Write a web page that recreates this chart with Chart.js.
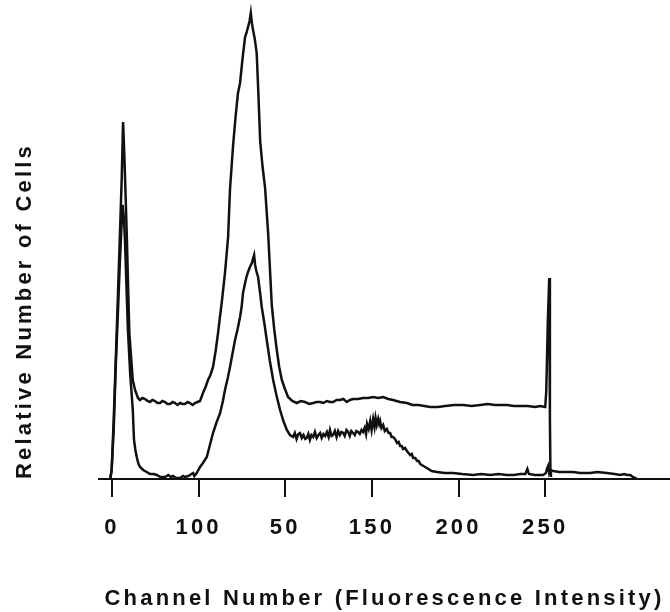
<!DOCTYPE html>
<html>
<head>
<meta charset="utf-8">
<script src="https://cdn.jsdelivr.net/npm/chart.js@4/dist/chart.umd.min.js"></script>
<style>
	body { margin: 0; background: #fff; }
	#wrap { width: 670px; height: 612px; }
</style>
</head>
<body>
<div id="wrap"><canvas id="histo"></canvas></div>
<script>
// channel numbers / relative cell counts
var upperChannels = [-1, -0.2, 1.0, 2.7, 4.6, 5.6, 6.4, 7.2, 8.5, 10.0, 12.0, 13.3, 15.0, 16.2, 17.5, 19.1, 20.5, 21.9, 23.3, 24.8,
	26.2, 27.7, 29.1, 30.6, 32.0, 33.5, 35.0, 36.4, 37.8, 39.3, 40.7, 42.1, 43.6, 45.0, 46.5, 47.9, 49.3, 50.8, 52.5, 54.0,
	55.4, 56.8, 58.3, 59.8, 61.2, 62.3, 63.5, 65.2, 66.2, 67.0, 68.1, 69.9, 71.3, 72.7, 73.9, 75.3, 76.8, 77.6, 78.5, 79.4,
	80.1, 80.8, 81.4, 82.4, 83.5, 84.5, 85.5, 86.9, 88.3, 90.1, 92.2, 93.6, 95.1, 96.5, 98.0, 99.8, 101.6, 104.0, 106.6, 109.0,
	111.4, 113.8, 116.1, 118.1, 120.1, 122.0, 124.0, 125.8, 127.6, 129.6, 131.6, 133.5, 135.5, 137.3, 139.1, 142.0, 144.9, 147.8, 150.7, 153.6,
	156.5, 159.4, 162.2, 166.2, 170.2, 173.4, 176.7, 180.2, 183.6, 188.0, 192.3, 197.5, 202.7, 207.6, 212.5, 216.8, 221.1, 224.5, 227.9, 231.8,
	235.6, 239.9, 244.2, 247.1, 250.0, 250.6, 251.5, 252.3, 252.7, 253.0, 253.3];
var upperCounts = [0, 9, 60, 146, 246, 300, 357, 320, 246, 146, 99, 89, 81, 79, 81, 80, 78, 77, 79, 78,
	76, 76, 78, 77, 75, 75, 77, 76, 74, 76, 75, 75, 77, 76, 74, 76, 77, 78, 86, 92,
	99, 104, 112, 128, 146, 162, 179, 206, 226, 242, 290, 334, 362, 386, 396, 420, 442, 446, 452, 458,
	466, 455, 449, 440, 426, 384, 338, 312, 292, 246, 174, 150, 129, 112, 99, 90, 82, 78, 76, 78,
	77, 75, 76, 77, 77, 76, 78, 77, 77, 79, 79, 80, 77, 79, 80, 80, 81, 81, 82, 81,
	82, 80, 79, 77, 76, 74, 74, 73, 72, 72, 73, 74, 74, 73, 74, 75, 74, 74, 74, 73,
	73, 73, 72, 73, 72, 88, 158, 201, 60, 8, 2];

var lowerChannels = [-1, -0.2, 1.0, 2.3, 3.5, 4.6, 5.4, 6.1, 6.8, 7.5, 8.3, 9.2, 10.5, 12.0, 12.7, 13.5, 14.4, 15.3, 16.2, 18.0,
	20.0, 22.0, 24.0, 25.8, 28.0, 30.6, 32.5, 34.0, 35.2, 37.0, 39.3, 41.0, 42.1, 44.0, 45.0, 46.8, 47.5, 48.9, 49.8, 50.8,
	52.5, 54.7, 56.5, 58.3, 60.2, 62.4, 64.0, 65.2, 66.8, 68.1, 69.6, 71.0, 72.5, 73.9, 74.8, 75.6, 76.8, 77.6, 78.5, 79.6,
	80.7, 81.3, 82.0, 82.6, 83.3, 84.3, 85.4, 86.4, 87.9, 89.3, 91.1, 93.0, 95.0, 97.0, 98.9, 100.9, 102.7, 104.5, 105.5, 106.5,
	107.5, 108.5, 109.5, 110.5, 111.5, 112.4, 113.3, 114.2, 115.1, 116.1, 117.1, 118.1, 119.1, 120.1, 121.0, 122.0, 123.0, 124.0, 125.0, 125.8,
	126.7, 127.6, 128.6, 129.6, 130.5, 131.5, 132.4, 133.4, 134.3, 135.3, 136.3, 137.2, 138.1, 139.1, 140.1, 141.0, 142.0, 143.0, 144.0, 144.9,
	145.8, 146.6, 147.2, 148.1, 149.0, 149.8, 150.7, 151.5, 152.1, 152.8, 153.6, 154.2, 154.7, 155.5, 156.5, 157.4, 158.6, 159.6, 160.5, 161.3,
	162.2, 163.3, 164.5, 165.4, 166.3, 167.2, 168.0, 169.1, 170.2, 171.1, 172.1, 173.0, 173.8, 175.0, 176.1, 177.0, 177.8, 179.7, 181.7, 184.5,
	187.5, 192.0, 196.9, 202.0, 208.4, 213.0, 218.2, 223.0, 227.9, 232.0, 235.6, 238.5, 239.7, 240.6, 244.0, 248.8, 250.4, 251.0, 251.7, 252.3,
	252.9, 254.6, 258.0, 262.0, 266.2, 270.0, 276.0, 280.0, 285.6, 290.0, 293.3, 295.5, 297.2, 299.1, 300.5, 302.9];
var lowerCounts = [0, 9, 50, 119, 170, 219, 250, 274, 262, 239, 195, 149, 105, 69, 39, 29, 21, 15, 12, 9,
	7, 5, 5, 4, 2, 2, 4, 2, 3, 1, 1, 3, 2, 3, 4, 6, 3, 6, 9, 12,
	16, 22, 34, 46, 56, 66, 78, 89, 101, 112, 126, 139, 150, 162, 172, 186, 196, 202, 207, 212,
	216, 220, 224, 214, 208, 202, 187, 172, 156, 139, 118, 99, 83, 69, 58, 49, 44, 42, 46, 40,
	45, 46, 41, 44, 40, 41, 45, 39, 44, 42, 47, 41, 44, 46, 41, 45, 43, 47, 42, 49,
	43, 44, 48, 42, 48, 44, 47, 46, 43, 49, 47, 43, 48, 46, 44, 48, 47, 45, 49, 47,
	51, 45, 55, 50, 58, 49, 60, 52, 61, 54, 60, 55, 58, 51, 54, 48, 50, 46, 46, 42,
	42, 40, 36, 37, 33, 33, 30, 31, 28, 26, 24, 25, 21, 21, 18, 18, 15, 13, 11, 8,
	7, 6, 6, 5, 4, 5, 4, 5, 4, 4, 5, 5, 10, 5, 4, 4, 6, 10, 13, 6,
	9, 8, 7, 7, 7, 6, 6, 7, 6, 5, 4, 5, 4, 4, 2, 0];

var tickValues = [0, 50, 100, 150, 200, 250];
var tickLabels = ['0', '100', '50', '150', '200', '250'];

function toPoints(xs, ys){
	var pts = [];
	for(var i = 0; i < xs.length; i++){
		pts.push({x: xs[i], y: ys[i]});
	}
	return pts;
}

var textFont = {family: '"Liberation Sans", Arial, sans-serif', size: 22, weight: 'bold'};

var spacing = {
	id: 'spacing',
	beforeDraw: function(chart){
		chart.ctx.letterSpacing = '3.2px';
	}
};

var histo = new Chart(document.getElementById('histo'), {
	type: 'line',
	data: {
		datasets: [{
			data: toPoints(upperChannels, upperCounts),
			borderColor: '#111',
			borderWidth: 2.5,
			pointRadius: 0,
			tension: 0,
			fill: false
		}, {
			data: toPoints(lowerChannels, lowerCounts),
			borderColor: '#111',
			borderWidth: 2.5,
			pointRadius: 0,
			tension: 0,
			fill: false
		}]
	},
	plugins: [spacing],
	options: {
		responsive: true,
		maintainAspectRatio: false,
		animation: false,
		layout: {padding: 0},
		plugins: {
			legend: {display: false},
			tooltip: {enabled: false}
		},
		scales: {
			x: {
				type: 'linear',
				min: -7.5,
				max: 322,
				afterBuildTicks: function(scale){
					scale.ticks = tickValues.map(function(v){ return {value: v}; });
				},
				afterFit: function(scale){ scale.height = 133; },
				ticks: {
					color: '#111',
					font: textFont,
					padding: 18,
					maxRotation: 0,
					callback: function(value, index){ return tickLabels[index]; }
				},
				grid: {
					drawOnChartArea: false,
					drawTicks: true,
					tickLength: 18,
					color: '#111',
					lineWidth: 2
				},
				border: {color: '#111', width: 2},
				title: {
					display: true,
					text: 'Channel Number (Fluorescence Intensity)',
					color: '#111',
					font: textFont,
					padding: 0
				}
			},
			y: {
				min: 0,
				max: 479,
				afterFit: function(scale){ scale.width = 99; },
				ticks: {display: false},
				grid: {display: false},
				border: {display: false},
				title: {
					display: true,
					text: 'Relative Number of Cells',
					align: 'start',
					color: '#111',
					font: textFont,
					padding: 12
				}
			}
		}
	}
});
</script>
</body>
</html>
